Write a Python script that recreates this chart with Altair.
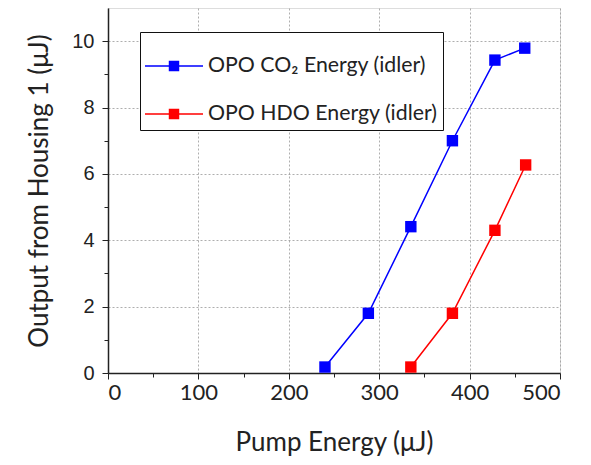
import altair as alt
import pandas as pd

series = ["OPO CO₂ Energy (idler)", "OPO HDO Energy (idler)"]
colors = ["#0000ff", "#ff0000"]
co2_pump = [240, 288, 335, 381, 428, 461]
co2_out = [0.18, 1.8, 4.41, 7.0, 9.43, 9.79]
hdo_pump = [335, 381, 428, 462]
hdo_out = [0.18, 1.8, 4.3, 6.27]
x_major = [0, 100, 200, 300, 400, 500]
y_major = [0, 2, 4, 6, 8, 10]
x_minor = [50, 150, 250, 350, 450]
y_minor = [1, 3, 5, 7, 9]

df = pd.DataFrame({
    "pump": co2_pump + hdo_pump,
    "out": co2_out + hdo_out,
    "series": [series[0]] * len(co2_pump) + [series[1]] * len(hdo_pump),
})

FONT = "Lato"
xs = alt.Scale(domain=[0, 500], nice=False, zero=False)
ys = alt.Scale(domain=[0, 11], nice=False, zero=False)

x_enc = alt.X("pump:Q", scale=xs, axis=alt.Axis(
    values=x_major, title="Pump Energy (μJ)", grid=True, gridDash=[2, 2],
    gridColor="#999", gridWidth=0.8, tickSize=6, tickColor="#222",
    domainColor="#222", domainWidth=1.5, labelFontSize=22, labelFont=FONT,
    labelColor="#222", labelPadding=3, titleFontSize=26, titleFont=FONT,
    titleFontWeight="normal", titleColor="#222", titlePadding=26))
y_enc = alt.Y("out:Q", scale=ys, axis=alt.Axis(
    values=y_major, title="Output from Housing 1 (μJ)", grid=True, gridDash=[2, 2],
    gridColor="#999", gridWidth=0.8, tickSize=6, tickColor="#222",
    domainColor="#222", domainWidth=1.5, labelFontSize=20, labelFont="Liberation Sans",
    labelColor="#222", labelPadding=8, titleFontSize=26, titleFont=FONT,
    titleFontWeight="normal", titleColor="#222", titlePadding=19))

cscale = alt.Scale(domain=series, range=colors)
sym = ("M-1,-0.025L1,-0.025L1,0.025L-1,0.025Z "
       "M-0.18,-0.18L0.18,-0.18L0.18,0.18L-0.18,0.18Z")

line = alt.Chart(df).mark_line(strokeWidth=1.5).encode(
    x=x_enc, y=y_enc,
    color=alt.Color("series:N", scale=cscale, legend=None))

pts = alt.Chart(df).mark_square(size=130, opacity=1).encode(
    x=alt.X("pump:Q", scale=xs, axis=None),
    y=alt.Y("out:Q", scale=ys, axis=None),
    color=alt.Color("series:N", scale=cscale, legend=alt.Legend(
        title=None, orient="none", legendX=32, legendY=24,
        strokeColor="#111", fillColor="white", padding=5,
        labelFontSize=21.3, labelFont=FONT, labelColor="#222", labelLimit=400,
        symbolType=sym, symbolSize=3364, symbolStrokeWidth=0,
        symbolOpacity=1, rowPadding=8, labelOffset=5, cornerRadius=0)))

xminor = alt.Chart(pd.DataFrame({"xm": x_minor})).mark_point(opacity=0).encode(
    x=alt.X("xm:Q", scale=xs, axis=alt.Axis(
        orient="bottom", values=x_minor, labels=False, grid=False, domain=False,
        tickSize=4, tickColor="#222", title=None)))
yminor = alt.Chart(pd.DataFrame({"ym": y_minor})).mark_point(opacity=0).encode(
    y=alt.Y("ym:Q", scale=ys, axis=alt.Axis(
        orient="left", values=y_minor, labels=False, grid=False, domain=False,
        tickSize=4, tickColor="#222", title=None)))

chart = alt.layer(line, pts, xminor, yminor).resolve_axis(
    x="independent", y="independent"
).resolve_legend(color="independent").properties(
    width=452, height=365,
    autosize=alt.AutoSizeParams(type="none"),
    padding={"left": 100, "top": 0, "right": 20, "bottom": 92},
).configure_view(stroke="#222", strokeWidth=1.5).configure(background="white")

chart.save("out.html", embed_options={"renderer": "svg", "actions": False})
